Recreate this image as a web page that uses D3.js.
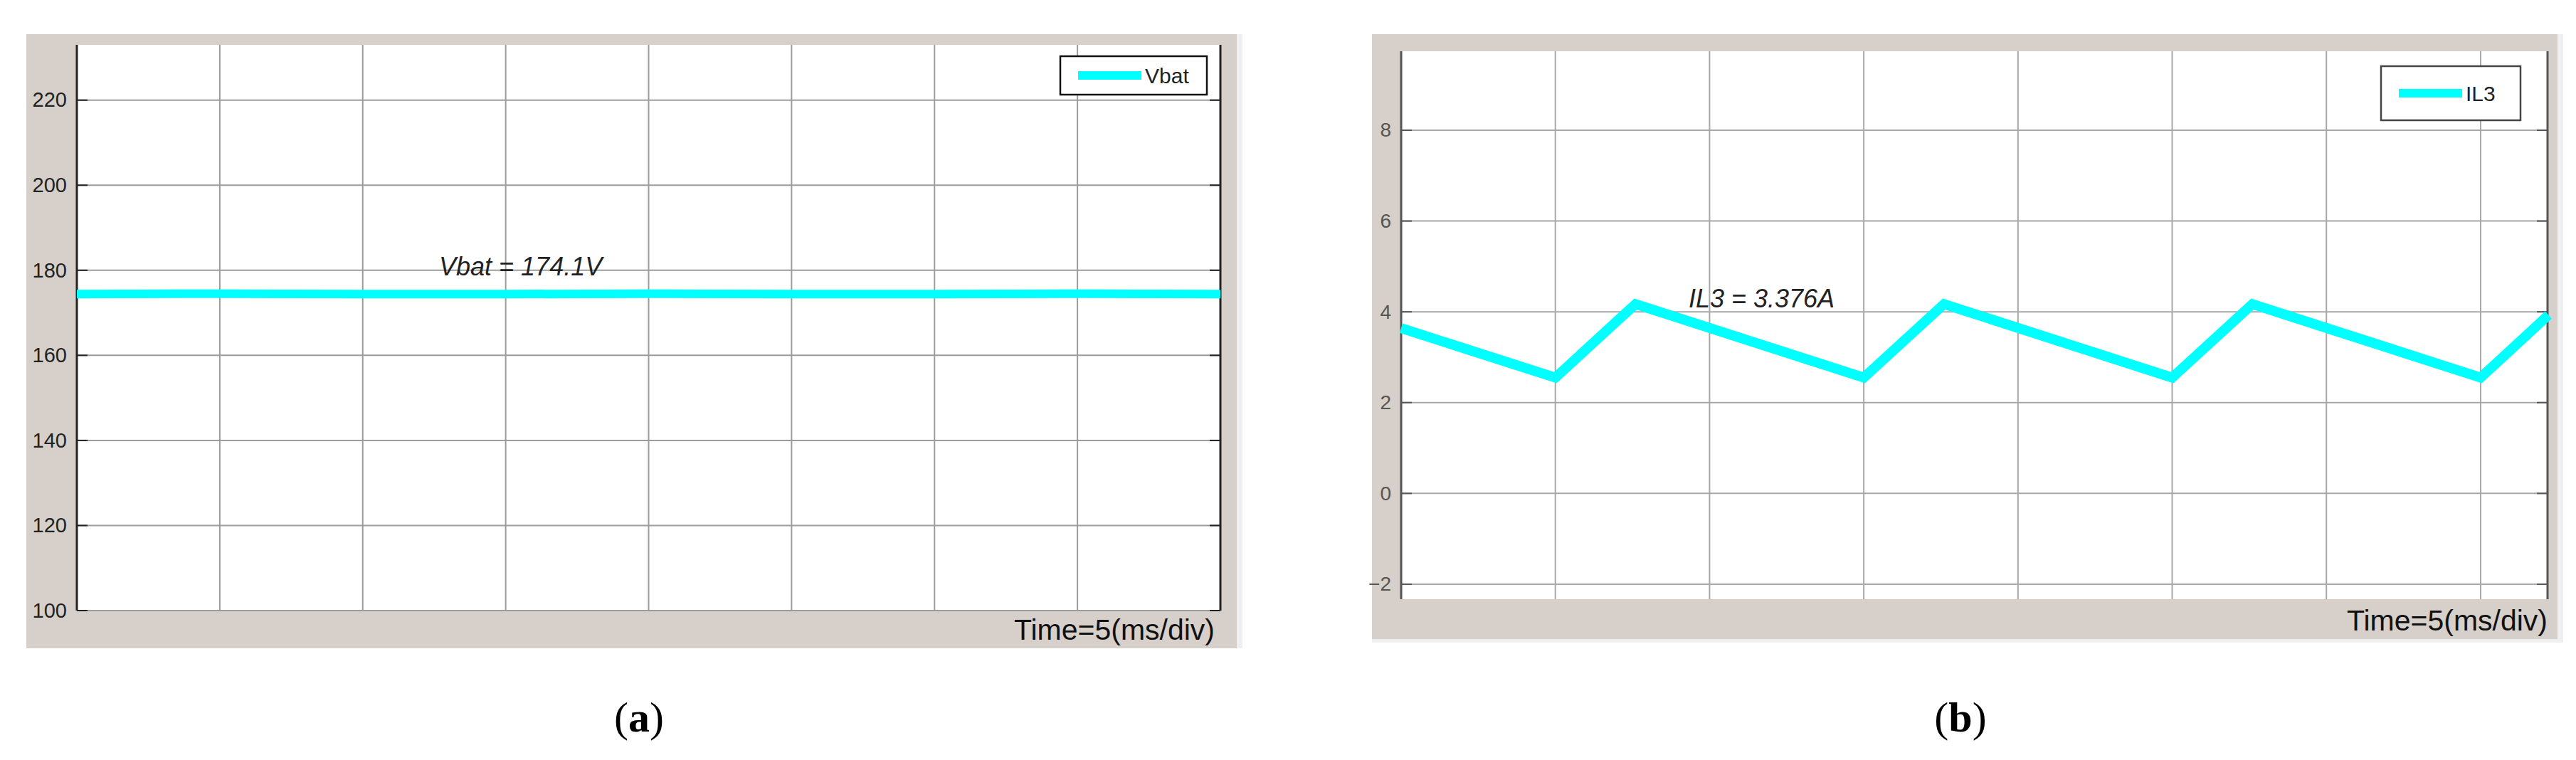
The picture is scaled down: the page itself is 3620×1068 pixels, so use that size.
<!DOCTYPE html>
<html>
<head>
<meta charset="utf-8">
<script src="https://cdn.jsdelivr.net/npm/d3@7"></script>
<style>
  body { margin: 0; background: #fff; }
  svg { display: block; }
</style>
</head>
<body>
<svg id="fig" width="3620" height="1068"></svg>
<script>
// Data ----------------------------------------------------------------------
// (a) battery voltage, time in ms
const vbatTime = [0, 5, 10, 15, 20, 25, 30, 35, 40];
const vbatValues = [174.4, 174.5, 174.4, 174.4, 174.5, 174.4, 174.4, 174.5, 174.4];
const vbatTicks = [100, 120, 140, 160, 180, 200, 220];

// (b) inductor current IL3, time in ms
const il3Time = [0, 5, 7.6, 15, 17.6, 25, 27.6, 35, 37.2];
const il3Values = [3.64, 2.55, 4.17, 2.55, 4.17, 2.55, 4.17, 2.55, 3.93];
const il3Ticks = [-2, 0, 2, 4, 6, 8];

// vertical grid = 5 ms/div
const timeGrid = [0, 5, 10, 15, 20, 25, 30, 35, 40];
// ------------------------------------------------------------------------------

const svg = d3.select("#fig");
const CYAN = "#00ffff";
const PANEL_BG = "#d7d0ca";
const FONT = "'Liberation Sans', Arial, sans-serif";

function drawPanel(cfg) {
    const g = svg.append("g");

    // gray frame like the simulink scope window
    g.append("rect")
        .attr("x", cfg.frame.x).attr("y", cfg.frame.y)
        .attr("width", cfg.frame.w).attr("height", cfg.frame.h)
        .attr("fill", PANEL_BG);
    g.append("rect") // light strip at the right
        .attr("x", cfg.frame.x + cfg.frame.w).attr("y", cfg.frame.y)
        .attr("width", 8).attr("height", cfg.frame.h + cfg.stripBottom)
        .attr("fill", "#efefef");
    if (cfg.stripBottom) {
        g.append("rect")
            .attr("x", cfg.frame.x).attr("y", cfg.frame.y + cfg.frame.h)
            .attr("width", cfg.frame.w).attr("height", cfg.stripBottom)
            .attr("fill", "#efefef");
    }

    const x = d3.scaleLinear().domain(cfg.xDomain).range([cfg.left, cfg.right]);
    const y = d3.scaleLinear().domain(cfg.yDomain).range([cfg.bottom, cfg.top]);

    // white plot area
    g.append("rect")
        .attr("x", cfg.left).attr("y", cfg.top)
        .attr("width", cfg.right - cfg.left).attr("height", cfg.bottom - cfg.top)
        .attr("fill", "#fff");

    // grid
    g.append("g").selectAll("line")
        .data(timeGrid.filter(t => t > cfg.xDomain[0] && t < cfg.xDomain[1]))
        .join("line")
        .attr("x1", d => x(d)).attr("x2", d => x(d))
        .attr("y1", cfg.top).attr("y2", cfg.bottom)
        .attr("stroke", cfg.gridColor).attr("stroke-width", 2);

    g.append("g").selectAll("line")
        .data(cfg.ticks)
        .join("line")
        .attr("x1", cfg.left).attr("x2", cfg.right)
        .attr("y1", d => y(d)).attr("y2", d => y(d))
        .attr("stroke", cfg.gridColor).attr("stroke-width", 2);

    // y axis (labels) with d3 axis, inner tick marks on both sides
    const axis = g.append("g")
        .attr("transform", `translate(${cfg.left},0)`)
        .call(d3.axisLeft(y).tickValues(cfg.ticks).tickSize(0).tickPadding(14));
    axis.select(".domain").remove();
    axis.selectAll("text")
        .attr("font-family", FONT)
        .attr("font-size", cfg.labelSize)
        .attr("fill", cfg.labelColor);

    g.append("g").selectAll("line")
        .data(cfg.ticks)
        .join("line")
        .attr("x1", cfg.left).attr("x2", cfg.left + 15)
        .attr("y1", d => y(d)).attr("y2", d => y(d))
        .attr("stroke", cfg.axisColor).attr("stroke-width", 2);
    g.append("g").selectAll("line")
        .data(cfg.ticks)
        .join("line")
        .attr("x1", cfg.right - 15).attr("x2", cfg.right)
        .attr("y1", d => y(d)).attr("y2", d => y(d))
        .attr("stroke", cfg.axisColor).attr("stroke-width", 2);

    // left and right borders
    [cfg.left, cfg.right].forEach(px => {
        g.append("line")
            .attr("x1", px).attr("x2", px)
            .attr("y1", cfg.top).attr("y2", cfg.bottom)
            .attr("stroke", cfg.axisColor).attr("stroke-width", 3);
    });

    // signal
    const line = d3.line().x(d => x(d[0])).y(d => y(d[1]));
    g.append("path")
        .datum(d3.zip(cfg.time, cfg.values))
        .attr("d", line)
        .attr("fill", "none")
        .attr("stroke", CYAN)
        .attr("stroke-width", cfg.lineWidth)
        .attr("stroke-linejoin", "miter");

    // value annotation
    g.append("text")
        .attr("x", x(cfg.note.t)).attr("y", y(cfg.note.v))
        .attr("font-family", FONT).attr("font-style", "italic")
        .attr("font-size", 36).attr("fill", "#222")
        .text(cfg.note.text);

    // legend
    const L = cfg.legend;
    g.append("rect")
        .attr("x", L.x).attr("y", L.y).attr("width", L.w).attr("height", L.h)
        .attr("fill", "#fff").attr("stroke", L.stroke).attr("stroke-width", 2.5);
    g.append("line")
        .attr("x1", L.x + 25).attr("x2", L.x + 114)
        .attr("y1", L.y + L.h / 2).attr("y2", L.y + L.h / 2)
        .attr("stroke", CYAN).attr("stroke-width", 12);
    g.append("text")
        .attr("x", L.x + 119).attr("y", L.y + L.h / 2 + 11)
        .attr("font-family", FONT).attr("font-size", 30).attr("fill", "#222")
        .text(cfg.name);

    // time base label
    g.append("text")
        .attr("x", cfg.timeLabel.x).attr("y", cfg.timeLabel.y)
        .attr("text-anchor", "end")
        .attr("font-family", FONT).attr("font-size", 41).attr("fill", "#111")
        .text("Time=5(ms/div)");

    // caption
    const cap = svg.append("text")
        .attr("x", cfg.caption.x).attr("y", 1028)
        .attr("text-anchor", "middle")
        .attr("font-family", "'Liberation Serif', 'Times New Roman', serif")
        .attr("font-size", 60).attr("fill", "#000");
    cap.append("tspan").text("(");
    cap.append("tspan").attr("font-weight", "bold").text(cfg.caption.letter);
    cap.append("tspan").text(")");
}

drawPanel({
    name: "Vbat",
    time: vbatTime, values: vbatValues, ticks: vbatTicks,
    frame: { x: 37, y: 48, w: 1701, h: 863 }, stripBottom: 0,
    left: 108, right: 1715, top: 63, bottom: 858,
    xDomain: [0, 40], yDomain: [100, 233],
    gridColor: "#9c9c9c", axisColor: "#222",
    labelSize: 29, labelColor: "#222",
    lineWidth: 12,
    note: { t: 12.67, v: 178.8, text: "Vbat = 174.1V" },
    legend: { x: 1490, y: 79, w: 206, h: 54, stroke: "#111" },
    timeLabel: { x: 1707, y: 899 },
    caption: { x: 898, letter: "a" }
});

drawPanel({
    name: "IL3",
    time: il3Time, values: il3Values, ticks: il3Ticks,
    frame: { x: 1928, y: 48, w: 1666, h: 850 }, stripBottom: 5,
    left: 1969, right: 3580, top: 72, bottom: 842,
    xDomain: [0, 37.17], yDomain: [-2.33, 9.74],
    gridColor: "#a8a8a8", axisColor: "#555",
    labelSize: 28, labelColor: "#555",
    lineWidth: 14,
    note: { t: 9.32, v: 4.10, text: "IL3 = 3.376A" },
    legend: { x: 3346, y: 93, w: 196, h: 76, stroke: "#444" },
    timeLabel: { x: 3580, y: 886 },
    caption: { x: 2755, letter: "b" }
});
</script>
</body>
</html>
